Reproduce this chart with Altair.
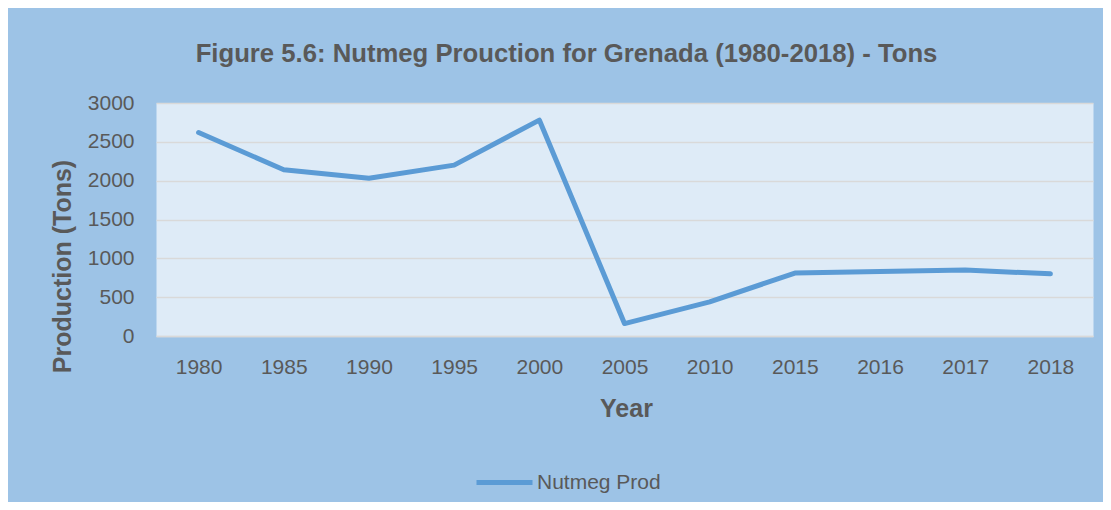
import altair as alt
import pandas as pd

years = ["1980", "1985", "1990", "1995", "2000", "2005", "2010", "2015", "2016", "2017", "2018"]
production = [2620, 2140, 2030, 2200, 2780, 160, 440, 810, 830, 850, 800]
series = ["Nutmeg Prod"] * len(years)
y_ticks = [0, 500, 1000, 1500, 2000, 2500, 3000]

df = pd.DataFrame({"Year": years, "Production": production, "Series": series})

FONT = "Liberation Sans"
TXT = "#595959"

chart = alt.Chart(df).mark_line(
    strokeWidth=5, strokeCap="round", strokeJoin="round"
).encode(
    x=alt.X(
        "Year:O",
        sort=years,
        scale=alt.Scale(type="point", padding=0.5),
        axis=alt.Axis(
            title="Year", labelAngle=0, ticks=False, grid=False,
            domain=True, domainColor="#D9D9D9", domainWidth=1.5,
            labelFont=FONT, labelFontSize=21, labelColor=TXT, labelPadding=20,
            titleFont=FONT, titleFontSize=25, titleFontWeight="bold", titleColor=TXT,
            titleX=470, titleY=72, titleBaseline="middle", titleAlign="center",
        ),
    ),
    y=alt.Y(
        "Production:Q",
        scale=alt.Scale(domain=[0, 3000]),
        axis=alt.Axis(
            title="Production (Tons)", values=y_ticks, format="d", ticks=False, domain=False,
            grid=True, gridColor="#D9D9D9", gridWidth=1.5,
            labelFont=FONT, labelFontSize=21, labelColor=TXT, labelPadding=22,
            titleFont=FONT, titleFontSize=25, titleFontWeight="bold", titleColor=TXT,
            titleX=-94, titleY=163, titleAngle=270, titleBaseline="middle", titleAlign="center",
        ),
    ),
    color=alt.Color(
        "Series:N",
        scale=alt.Scale(range=["#5B9BD5"]),
        legend=alt.Legend(
            title=None, orient="none", legendX=318, legendY=349,
            symbolType="stroke", symbolSize=3136, symbolStrokeWidth=5,
            labelFont=FONT, labelFontSize=21, labelColor=TXT, labelOffset=2,
        ),
    ),
).properties(
    width=937,
    height=233,
    background="#9DC3E6",
    padding={"left": 148, "top": 95, "right": 10, "bottom": 166},
    autosize=alt.AutoSizeParams(type="none"),
    title=alt.TitleParams(
        text="Figure 5.6: Nutmeg Prouction for Grenada (1980-2018) - Tons",
        font=FONT, fontSize=25.7, fontWeight="bold", color=TXT,
        anchor="middle", frame="group", offset=4, dx=-58, baseline="alphabetic",
    ),
).configure_view(fill="#DEEBF7", stroke="transparent")

chart.save("out.html", embed_options={"renderer": "svg", "actions": False})
